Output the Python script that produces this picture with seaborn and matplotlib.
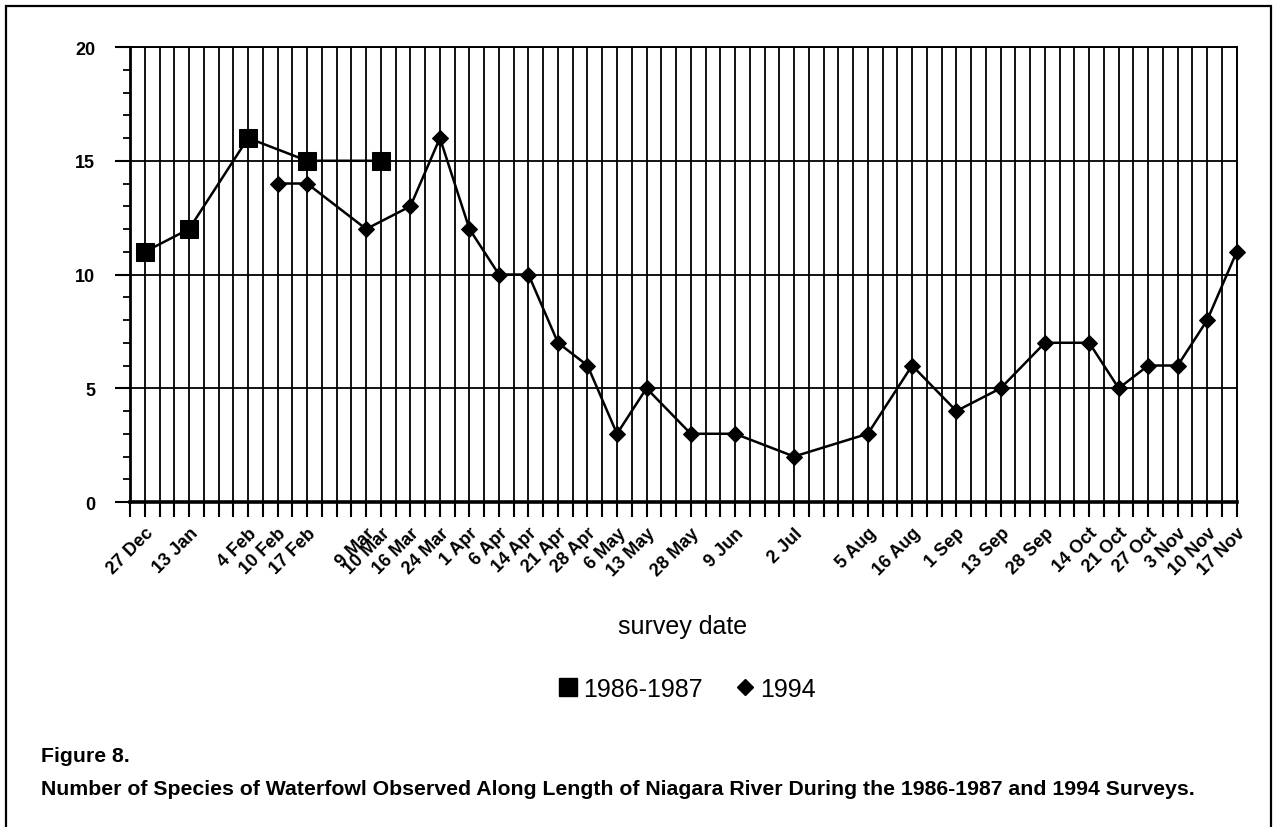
import matplotlib
matplotlib.use("Agg")
import matplotlib.pyplot as plt
from matplotlib.lines import Line2D
from matplotlib.patches import Rectangle
import pandas as pd
import seaborn as sns

# survey dates on the category axis, with the number of empty categories before each
dates = ["27 Dec", "13 Jan", "4 Feb", "10 Feb", "17 Feb", "9 Mar", "10 Mar", "16 Mar",
         "24 Mar", "1 Apr", "6 Apr", "14 Apr", "21 Apr", "28 Apr", "6 May", "13 May",
         "28 May", "9 Jun", "2 Jul", "5 Aug", "16 Aug", "1 Sep", "13 Sep", "28 Sep",
         "14 Oct", "21 Oct", "27 Oct", "3 Nov", "10 Nov", "17 Nov"]
blank_before = [0, 2, 3, 1, 1, 3, 0, 1, 1, 1, 1, 1, 1, 1, 1, 1, 2, 2, 3, 4,
                2, 2, 2, 2, 2, 1, 1, 1, 1, 1]

dates_8687 = ["27 Dec", "13 Jan", "4 Feb", "17 Feb", "10 Mar"]
species_8687 = [11, 12, 16, 15, 15]

dates_94 = ["10 Feb", "17 Feb", "9 Mar", "16 Mar", "24 Mar", "1 Apr", "6 Apr", "14 Apr",
            "21 Apr", "28 Apr", "6 May", "13 May", "28 May", "9 Jun", "2 Jul", "5 Aug",
            "16 Aug", "1 Sep", "13 Sep", "28 Sep", "14 Oct", "21 Oct", "27 Oct", "3 Nov",
            "10 Nov", "17 Nov"]
species_94 = [14, 14, 12, 13, 16, 12, 10, 10, 7, 6, 3, 5, 3, 3, 2, 3, 6, 4, 5, 7, 7, 5,
              6, 6, 8, 11]

# full category list (blank categories included)
categories = []
for d, b in zip(dates, blank_before):
    categories += [""] * b
    categories.append(d)
cat_index = {c: i for i, c in enumerate(categories) if c}

df86 = pd.DataFrame({"slot": [cat_index[d] for d in dates_8687], "n": species_8687})
df94 = pd.DataFrame({"slot": [cat_index[d] for d in dates_94], "n": species_94})

sns.set_style("white")
plt.rcParams["font.family"] = ["Liberation Sans", "DejaVu Sans"]
plt.rcParams["text.color"] = "black"
plt.rcParams["xtick.color"] = "black"
plt.rcParams["ytick.color"] = "black"

fig = plt.figure(figsize=(12.75, 8.28), dpi=100)
ax = fig.add_axes([0.102, 0.3925, 0.868, 0.5495])

sns.lineplot(data=df86, x="slot", y="n", ax=ax, color="black", lw=1.8,
             marker="s", markersize=13, markeredgecolor="black", zorder=4, clip_on=False)
sns.lineplot(data=df94, x="slot", y="n", ax=ax, color="black", lw=1.8,
             marker="D", markersize=8, markeredgecolor="black", zorder=4, clip_on=False)

ax.set_xlim(-1, len(categories) - 1)
ax.set_ylim(0, 20)

# grid: a vertical line at every category, horizontal at every 5
ax.set_xticks(range(-1, len(categories)), minor=True)
ax.set_xticks([cat_index[d] for d in dates])
ax.set_xticklabels(dates, rotation=45, ha="right", rotation_mode="anchor",
                   fontsize=13, fontweight="bold")
ax.set_yticks([0, 5, 10, 15, 20])
ax.set_yticklabels(["0", "5", "10", "15", "20"], fontsize=13, fontweight="bold")
ax.set_yticks(range(0, 21), minor=True)
ax.tick_params(axis="x", which="both", direction="out", length=11, width=1.5,
               bottom=True, pad=5)
ax.tick_params(axis="y", which="major", direction="out", length=11, width=1.5,
               left=True, pad=14)
ax.tick_params(axis="y", which="minor", direction="out", length=5, width=1.3, left=True)
ax.grid(True, axis="x", which="both", color="black", lw=1.3)
ax.grid(True, axis="y", which="major", color="black", lw=1.3)
ax.set_axisbelow(True)
for s in ax.spines.values():
    s.set_color("black")
    s.set_linewidth(1.4)
ax.spines["bottom"].set_linewidth(2.6)
ax.spines["left"].set_linewidth(2.0)

ax.set_xlabel("")
ax.set_ylabel("")
fig.text(0.535, 0.243, "survey date", ha="center", va="center", fontsize=18)

handles = [Line2D([], [], ls="none", marker="s", markersize=13, color="black"),
           Line2D([], [], ls="none", marker="D", markersize=8, color="black")]
fig.legend(handles, ["1986-1987", "1994"], loc="center", bbox_to_anchor=(0.538, 0.167),
           ncol=2, frameon=False, fontsize=18, handletextpad=0.1, columnspacing=1.2,
           handlelength=1.0)

fig.text(0.032, 0.086, "Figure 8.", ha="left", va="center", fontsize=15.3,
         fontweight="bold")
fig.text(0.032, 0.046, "Number of Species of Waterfowl Observed Along Length of Niagara "
         "River During the 1986-1987 and 1994 Surveys.", ha="left", va="center",
         fontsize=15.3, fontweight="bold")

# outer box around the whole figure
fig.patches.append(Rectangle((0.005, -0.01), 0.992, 1.002, transform=fig.transFigure,
                             fill=False, ec="black", lw=1.6))

fig.savefig("out.png", dpi=100)
